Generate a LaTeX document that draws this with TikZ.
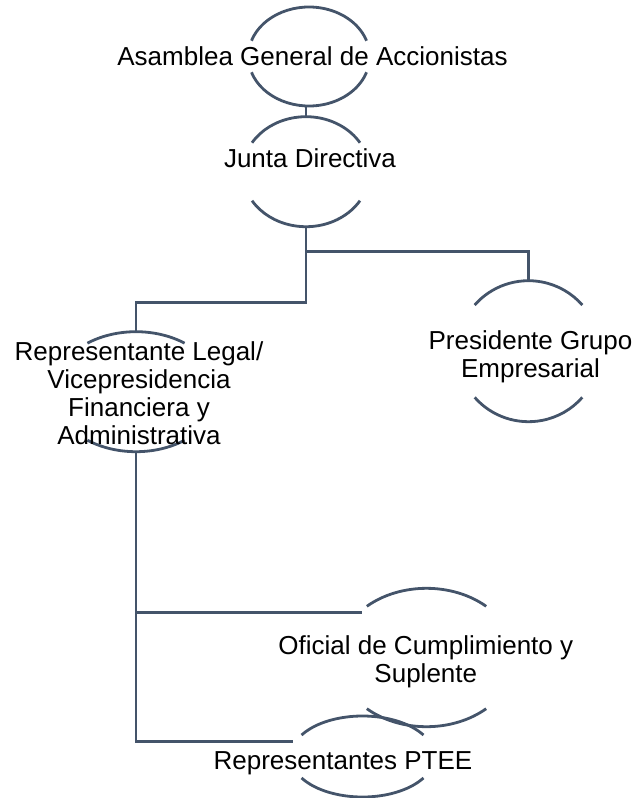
\documentclass[tikz,border=0pt]{standalone}
\usepackage{fontspec}
\setmainfont{Liberation Sans}
\usetikzlibrary{shapes.geometric}
\definecolor{orgblue}{HTML}{44546A}

\begin{document}
\begin{tikzpicture}[x=1pt,y=-1pt,
  unit/.style={ellipse,inner sep=0pt,outer sep=0pt},
  unittext/.style={align=center,inner sep=0pt,font=\fontsize{26}{28}\selectfont},
  orgline/.style={draw=orgblue,line width=2.8pt}]
\useasboundingbox (0,0) rectangle (637,798);

% units: name / centre / radii / angle where the arcs stop
\foreach \n/\cx/\cy/\rx/\ry/\t in {
  asm/309/56.5/60.7/49.5/18.6,
  jd/306/171.7/63.5/55/31.8,
  rep/136/391.7/82.6/60/54,
  pres/528.5/351.2/71.2/70.5/40.9,
  ofi/426.5/657.5/88.7/69.2/47.7,
  ptee/362.5/756.5/71.9/40.5/32}
{
  \node[unit,minimum width=2*\rx pt,minimum height=2*\ry pt] (\n) at (\cx,\cy) {};
  \pgfmathsetmacro\ta{180-\t}
  \pgfmathsetmacro\tb{180+\t}
  \pgfmathsetmacro\tc{360-\t}
  \draw[orgline] ([shift={(\ta:\rx pt and \ry pt)}]\n.center)
    arc[start angle=\ta,end angle=\t,x radius=\rx pt,y radius=\ry pt];
  \draw[orgline] ([shift={(\tb:\rx pt and \ry pt)}]\n.center)
    arc[start angle=\tb,end angle=\tc,x radius=\rx pt,y radius=\ry pt];
}

\node[unittext,anchor=base] (asmt) at (312.5,65) {Asamblea General de Accionistas};
\node[unittext,anchor=base] (jdt) at (310,167.5) {Junta Directiva};
\node[unittext] (rept) at (139,393) {Representante Legal/\\Vicepresidencia\\Financiera y\\Administrativa};
\node[unittext] (prest) at (530.5,356.5) {Presidente Grupo\\Empresarial};
\node[unittext] (ofit) at (425.8,661.7) {Oficial de Cumplimiento y\\Suplente};
\node[unittext,anchor=base] (pteet) at (343,769.3) {Representantes PTEE};

% connectors
\coordinate (ofi-in) at (361.7,612.3);
\coordinate (ptee-in) at (293.3,741.7);
\draw[orgline] (jd.north) -- (jd.north |- asm.south);
\draw[orgline] (jd.south) -- ++(0,24.5) -| (pres.north);
\draw[orgline] (jd.south) -- ++(0,75.5) -| (rep.north);
\draw[orgline] (rep.south) |- (ofi-in);
\draw[orgline] (rep.south) |- (ptee-in);
\end{tikzpicture}
\end{document}
